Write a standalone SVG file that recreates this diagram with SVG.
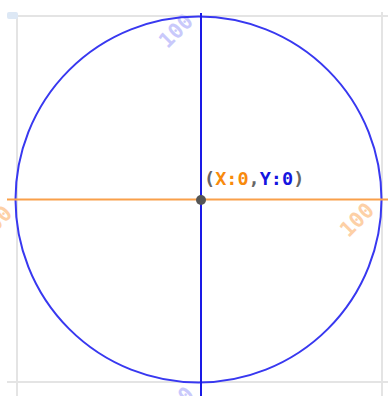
<svg xmlns="http://www.w3.org/2000/svg" width="388" height="396" viewBox="0 0 388 396">
<style>
.grid{stroke:#e4e4e4;stroke-width:2;fill:none}
.lbl{font-family:"DejaVu Sans Mono","Liberation Mono",monospace;font-weight:bold;font-size:21px;text-anchor:middle;dominant-baseline:central}
.lb{fill:#c9c9fb}
.lo{fill:#fdd0a6}
.coord{font-family:"DejaVu Sans Mono","Liberation Mono",monospace;font-weight:bold;font-size:18.5px}
</style>
<rect width="388" height="396" fill="#ffffff"/>
<g id="grid">
<line class="grid" x1="7" y1="16" x2="388" y2="16"/>
<line class="grid" x1="17" y1="16" x2="17" y2="396"/>
<line class="grid" x1="7" y1="382" x2="388" y2="382"/>
<line class="grid" x1="382" y1="12" x2="382" y2="396"/>
<rect x="7" y="12" width="11" height="7" rx="2" fill="#dde8f5"/>
</g>
<g id="labels">
<text class="lbl lb" transform="translate(176,31) rotate(-45)">100</text>
<text class="lbl lo" transform="translate(357,220) rotate(-45)">100</text>
<text class="lbl lo" transform="translate(-5,223) rotate(-45)">100</text>
<text class="lbl lb" transform="translate(177,404) rotate(-45)">100</text>
</g>
<g id="circle">
<circle cx="198.5" cy="199.5" r="183" fill="none" stroke="#3838f0" stroke-width="2"/>
</g>
<g id="connectors">
<line x1="7" y1="199.5" x2="388" y2="199.5" stroke="#f9a04a" stroke-width="2"/>
<line x1="201" y1="13" x2="201" y2="396" stroke="#1a1ae6" stroke-width="2"/>
</g>
<g id="origin">
<circle cx="201" cy="200" r="5" fill="#555555"/>
<text class="coord" x="204" y="185"><tspan fill="#666666">(</tspan><tspan fill="#f88a0c">X:0</tspan><tspan fill="#666666">,</tspan><tspan fill="#1515e0">Y:0</tspan><tspan fill="#666666">)</tspan></text>
</g>
</svg>
